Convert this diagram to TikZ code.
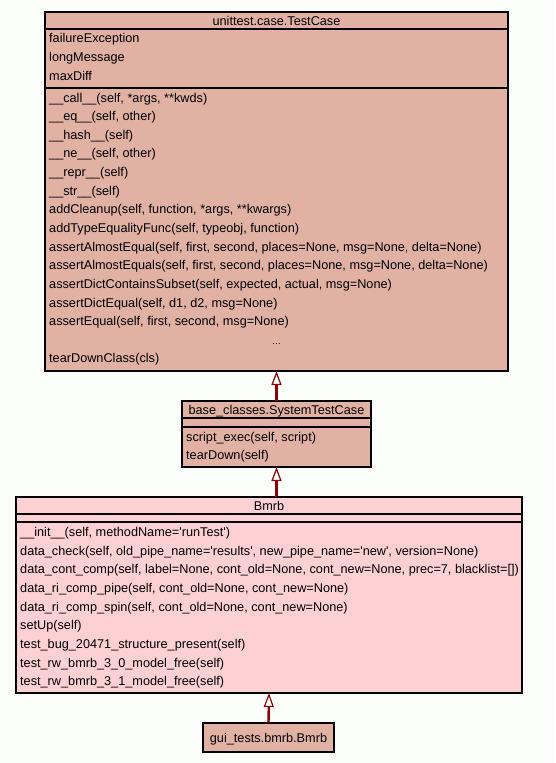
\documentclass[tikz,border=0pt]{standalone}
\usepackage{fontspec}
\newfontfamily\umlfont{Liberation Sans}
\usetikzlibrary{arrows.meta}
\definecolor{bgc}{HTML}{FCFEFC}
\definecolor{clsfill}{HTML}{E1B1A4}
\definecolor{clspink}{HTML}{FDD0D3}
\definecolor{edgecol}{HTML}{8B0000}
\tikzset{
  umlbox/.style={draw=black, line width=1.3pt, inner sep=0pt, outer sep=0pt, anchor=north west},
  sepline/.style={draw=black, line width=1.3pt},
  rowtext/.style={anchor=west, inner sep=0pt, text height=9pt, text depth=0pt,
    font=\umlfont\fontsize{12.7}{14}\selectfont},
  titletext/.style={rowtext, anchor=center},
  inherit/.style={draw=edgecol, line width=2.4pt,
    -{Triangle[width=10pt,length=14pt,fill=white,line width=1.2pt]}}
}
\begin{document}
\begin{tikzpicture}[x=1pt,y=-1pt]
\fill[bgc] (0,0) rectangle (555,763);
\useasboundingbox (0,0) rectangle (555,763);

% ---- unittest.case.TestCase
\node[umlbox, fill=clsfill, minimum width=463pt, minimum height=359pt] (tc) at (45,12) {};
\draw[sepline] (45,29) -- (508,29);
\draw[sepline] (45,88) -- (508,88);
\node[titletext] (tct) at (276.5,20.5) {unittest.case.TestCase};
\node[rowtext] (a1) at (49,38) {failureException};
\node[rowtext] (a2) at (49,57) {longMessage};
\node[rowtext] (a3) at (49,76) {maxDiff};
\node[rowtext] (m1) at (49,97.5) {\_\_call\_\_(self, *args, **kwds)};
\node[rowtext] (m2) at (49,116.1) {\_\_eq\_\_(self, other)};
\node[rowtext] (m3) at (49,134.8) {\_\_hash\_\_(self)};
\node[rowtext] (m4) at (49,153.4) {\_\_ne\_\_(self, other)};
\node[rowtext] (m5) at (49,172.1) {\_\_repr\_\_(self)};
\node[rowtext] (m6) at (49,190.7) {\_\_str\_\_(self)};
\node[rowtext] (m7) at (49,209.3) {addCleanup(self, function, *args, **kwargs)};
\node[rowtext] (m8) at (49,228.0) {addTypeEqualityFunc(self, typeobj, function)};
\node[rowtext] (m9) at (49,246.6) {assertAlmostEqual(self, first, second, places=None, msg=None, delta=None)};
\node[rowtext] (m10) at (49,265.3) {assertAlmostEquals(self, first, second, places=None, msg=None, delta=None)};
\node[rowtext] (m11) at (49,283.9) {assertDictContainsSubset(self, expected, actual, msg=None)};
\node[rowtext] (m12) at (49,302.5) {assertDictEqual(self, d1, d2, msg=None)};
\node[rowtext] (m13) at (49,321.2) {assertEqual(self, first, second, msg=None)};
\node[titletext] (m14) at (276.5,339.8) {\fontsize{9}{10}\selectfont …};
\node[rowtext] (m15) at (49,358.4) {tearDownClass(cls)};

% ---- base_classes.SystemTestCase
\node[umlbox, fill=clsfill, minimum width=189pt, minimum height=66pt] (stc) at (182,401) {};
\draw[sepline] (182,418) -- (371,418);
\draw[sepline] (182,427) -- (371,427);
\node[titletext] (stct) at (276.5,409.5) {base\_classes.SystemTestCase};
\node[rowtext] (s1) at (186,436.5) {script\_exec(self, script)};
\node[rowtext] (s2) at (186,455) {tearDown(self)};

% ---- Bmrb
\node[umlbox, fill=clspink, minimum width=506pt, minimum height=196pt] (bm) at (16,497) {};
\draw[sepline] (16,514) -- (522,514);
\draw[sepline] (16,522) -- (522,522);
\node[titletext] (bmt) at (269,506) {Bmrb};
\node[rowtext] (b1) at (20,532) {\_\_init\_\_(self, methodName='runTest')};
\node[rowtext] (b2) at (20,550.6) {data\_check(self, old\_pipe\_name='results', new\_pipe\_name='new', version=None)};
\node[rowtext] (b3) at (20,569.3) {data\_cont\_comp(self, label=None, cont\_old=None, cont\_new=None, prec=7, blacklist=[])};
\node[rowtext] (b4) at (20,587.9) {data\_ri\_comp\_pipe(self, cont\_old=None, cont\_new=None)};
\node[rowtext] (b5) at (20,606.6) {data\_ri\_comp\_spin(self, cont\_old=None, cont\_new=None)};
\node[rowtext] (b6) at (20,625.2) {setUp(self)};
\node[rowtext] (b7) at (20,643.8) {test\_bug\_20471\_structure\_present(self)};
\node[rowtext] (b8) at (20,662.5) {test\_rw\_bmrb\_3\_0\_model\_free(self)};
\node[rowtext] (b9) at (20,681.1) {test\_rw\_bmrb\_3\_1\_model\_free(self)};

% ---- gui_tests.bmrb.Bmrb
\node[umlbox, fill=clsfill, minimum width=131pt, minimum height=29pt] (gb) at (203,723) {};
\node[titletext] (gbt) at (268.5,737.5) {gui\_tests.bmrb.Bmrb};

% ---- inheritance arrows
\draw[inherit] (stc.north) -- (stc.north |- tc.south);
\draw[inherit] (stc.south |- bm.north) -- (stc.south);
\draw[inherit] (gb.north) -- (bm.south);
\end{tikzpicture}
\end{document}
